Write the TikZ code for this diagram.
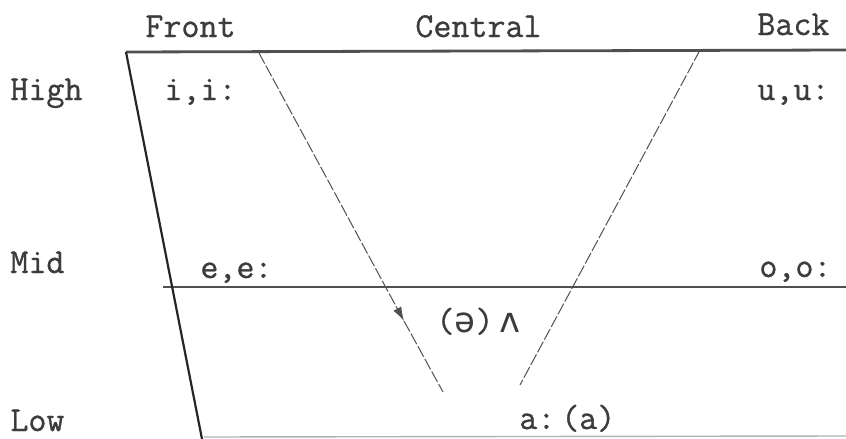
\documentclass[tikz,border=0pt]{standalone}
\usepackage{fontspec}
\usepackage{tikz}
\newfontfamily\typefont{Latin Modern Mono}[FakeBold=0.9]
\newfontfamily\ipafont{DejaVu Sans Mono}
\definecolor{tinte}{RGB}{60,60,60}
\definecolor{rahmen}{RGB}{80,80,80}
\usetikzlibrary{arrows.meta}

\begin{document}
\begin{tikzpicture}[lab/.style={anchor=base west, inner sep=0pt, text=tinte}, x=0.5pt, y=-0.5pt,
			>={Latex[length=7pt,width=4.5pt]},   %Pfeilspitzen
			vline/.style={rahmen, line width=0.5pt, dash pattern=on 6pt off 1.2pt},
			hline/.style={rahmen, line width=1.4pt},
			font=\typefont\fontsize{17.5}{20}\selectfont]
			\useasboundingbox (0,0) rectangle (846,439);
			%Eckpunkte
			\coordinate (tl) at (126,52);
			\coordinate (tr) at (846,50);
			\coordinate (bl) at (202,439);
			\coordinate (ml) at (163,287);
			\coordinate (mr) at (846,287);
			\coordinate (lbl) at (204,437);
			\coordinate (lbr) at (846,436);
			\coordinate (va) at (259,53);
			\coordinate (vm) at (404,321);
			\coordinate (vb) at (443,392);
			\coordinate (wa) at (700,50);
			\coordinate (wb) at (520,385);
			%Rahmen zeichnen
			\draw[hline] (tl) -- (tr);
			\draw[hline] (ml) -- (mr);
			\draw[black!85, line width=1.1pt] (tl) -- (bl);
			\draw[black!30, line width=0.7pt] (lbl) -- (lbr);
			%Pfeile im Dreieck
			\draw[vline,->] (va) -- (vm);
			\draw[vline] (vm) -- (vb);
			\draw[vline] (wa) -- (wb);
			%Spalten
			\node[lab] (front) at (145,37) {Front};
			\node[lab] (central) at (415,37) {Central};
			\node[lab] (back) at (757,35) {Back};
			%Zeilen
			\node[lab] (high) at (10,100) {High};
			\node[lab] (mid) at (10,273) {Mid};
			\node[lab] (low) at (10,431) {Low};
			%Vokale
			\node[lab] (ii) at (164,100) {i,i:};
			\node[lab] (uu) at (757,100) {u,u:};
			\node[lab] (ee) at (200,278) {e,e:};
			\node[lab] (oo) at (759,277) {o,o:};
			\node[lab] (schwa) at (436,332) {(\ipafont ə\typefont)\,\ipafont ʌ};
			\node[lab] (aa) at (519,429) {a:\,(a)};
		\end{tikzpicture}
\end{document}
